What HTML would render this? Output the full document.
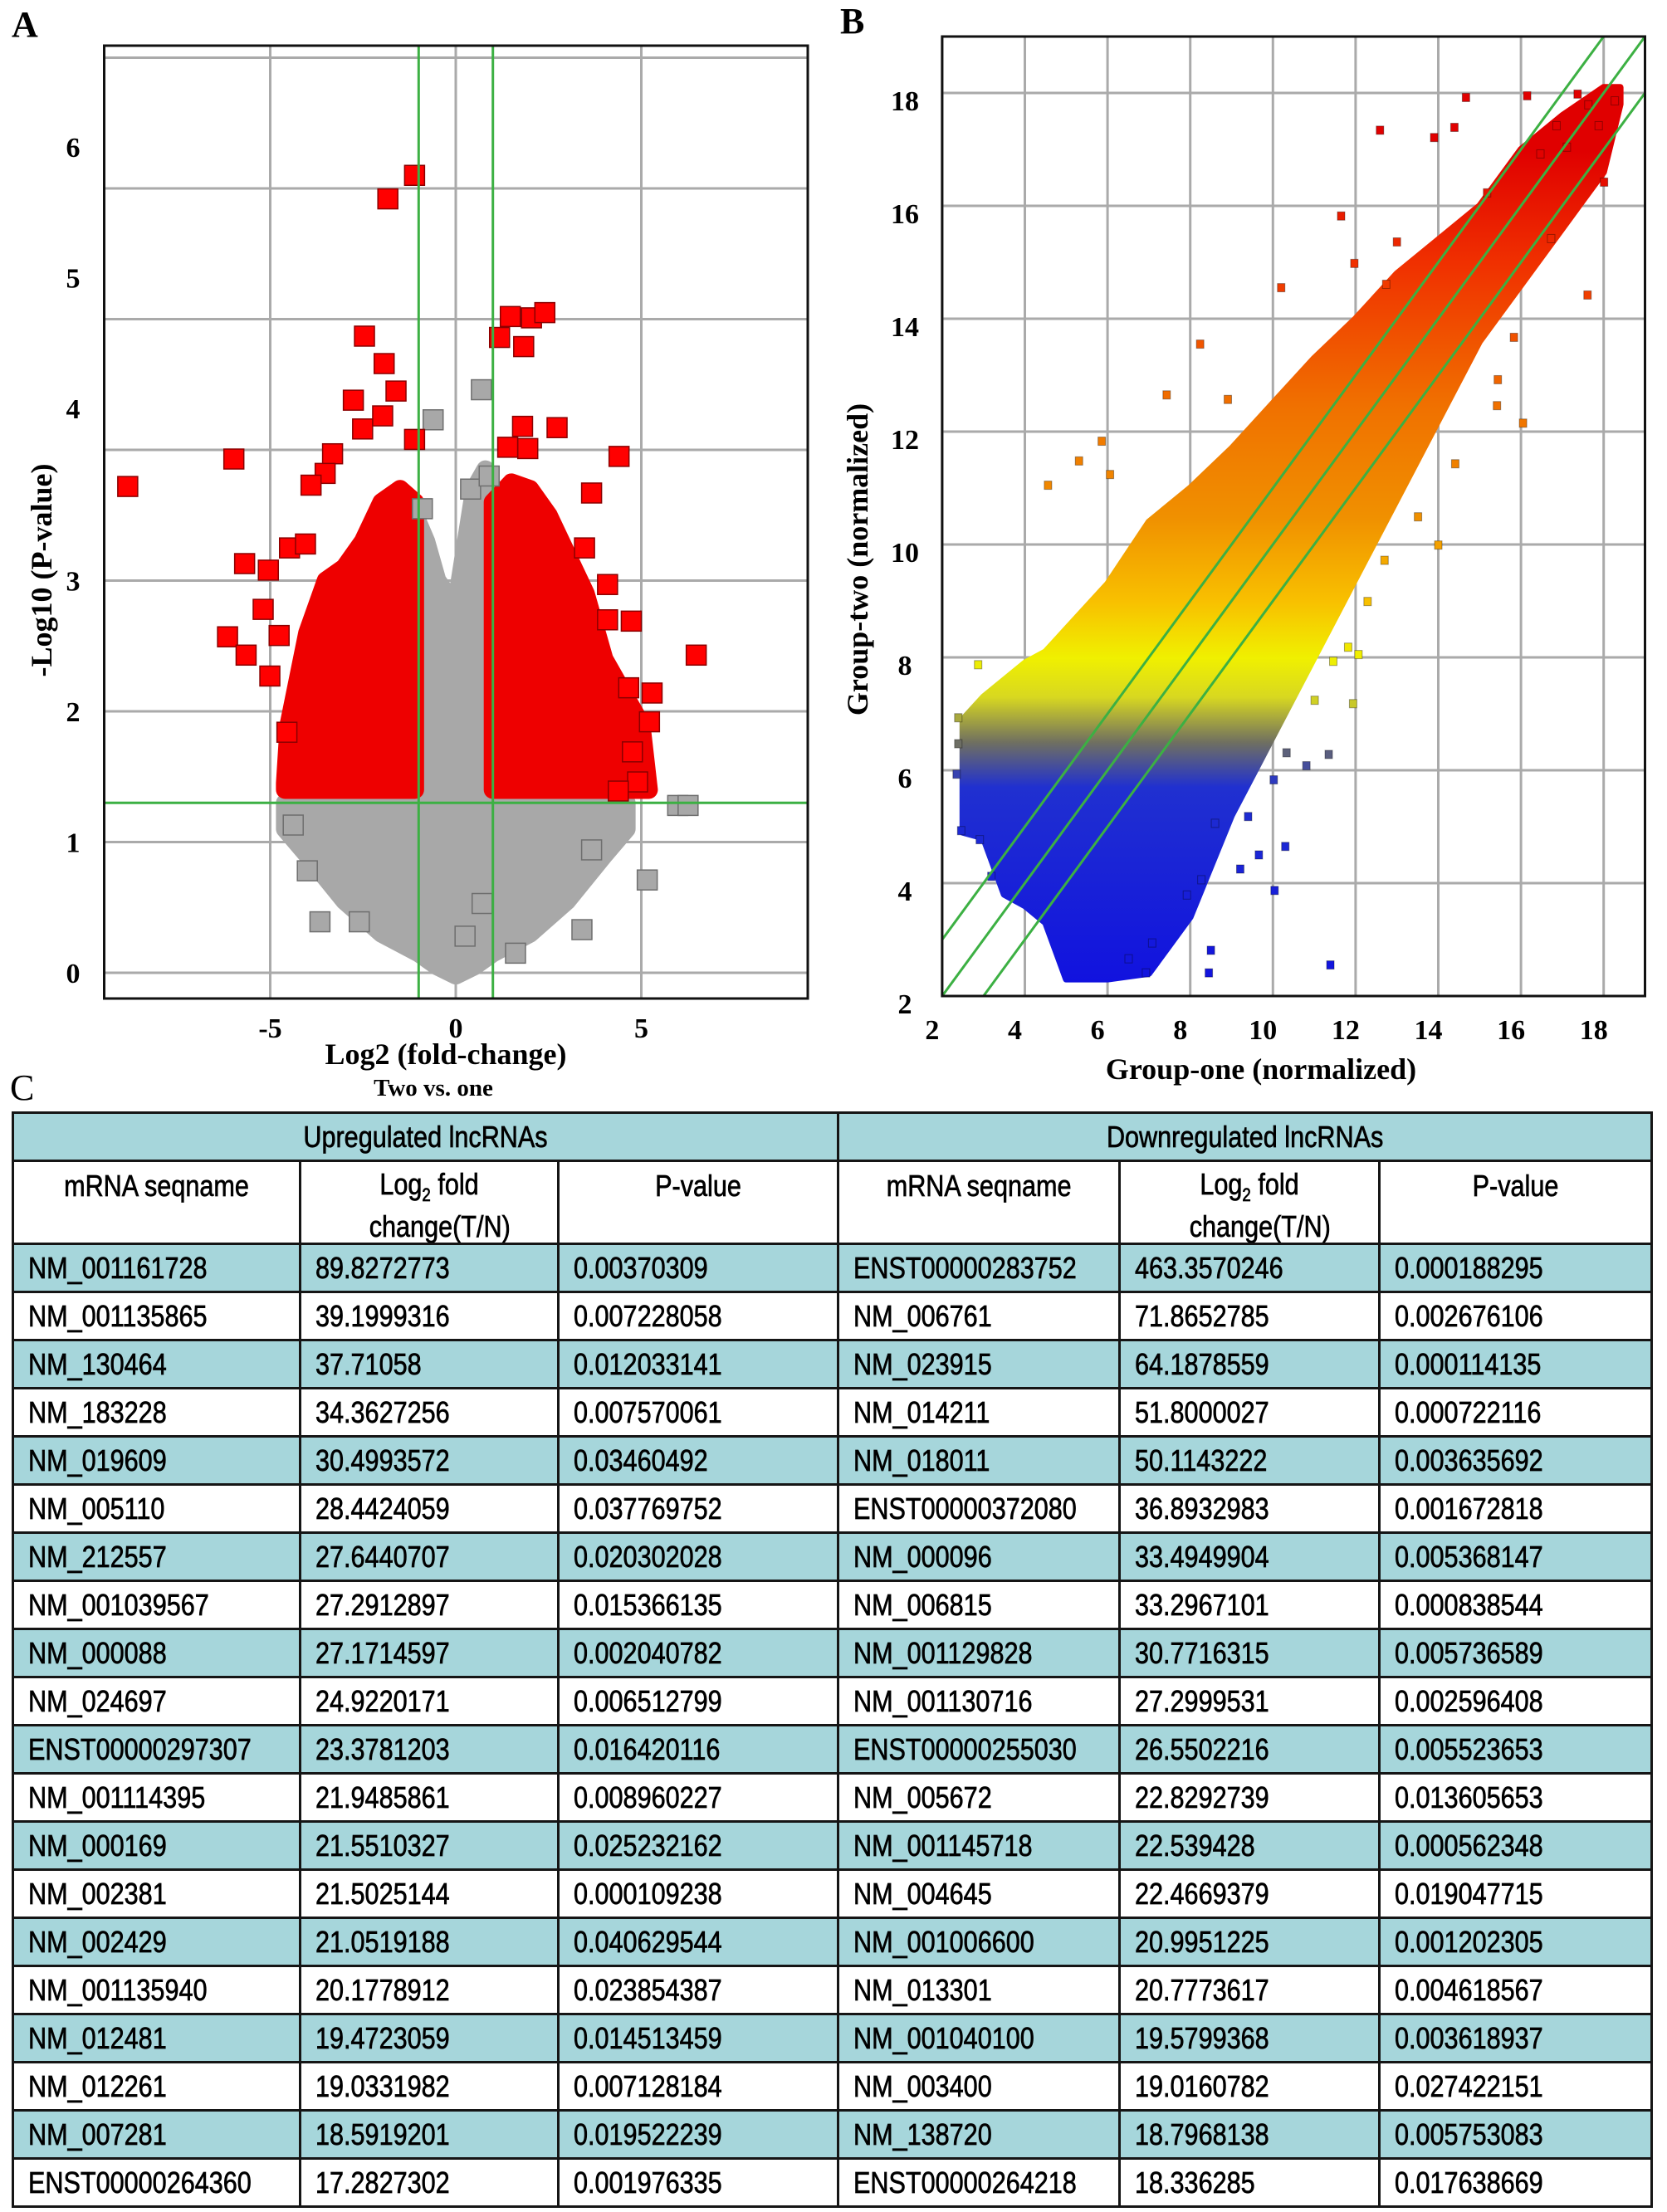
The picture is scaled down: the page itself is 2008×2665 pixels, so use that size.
<!DOCTYPE html>
<html><head><meta charset="utf-8">
<style>
html,body{margin:0;padding:0;background:#fff;}
body{width:2008px;height:2665px;position:relative;overflow:hidden;font-family:"Liberation Serif",serif;}
#charts{position:absolute;left:0;top:0;}
.plabel{position:absolute;font-family:"Liberation Serif",serif;font-weight:bold;font-size:44px;}
table{position:absolute;left:14px;top:1339px;border-collapse:collapse;table-layout:fixed;font-family:"Liberation Sans",sans-serif;}
td{border:3px solid #151515;padding:0;font-size:36px;color:#000;overflow:hidden;white-space:nowrap;-webkit-text-stroke:0.7px #000;}
.teal td,td.teal{background:#a6d6db;}
.cell{display:inline-block;transform:scaleX(0.85);transform-origin:left center;padding-left:20px;}
.hc{display:block;text-align:center;transform:scaleX(0.85);transform-origin:center;}
</style></head>
<body>
<div class="plabel" style="left:14px;top:4px;">A</div>
<div class="plabel" style="left:1012px;top:0px;">B</div>
<div class="plabel" style="left:12px;top:1285px;font-weight:normal;">C</div>
<svg id="charts" width="2008" height="1330" xmlns="http://www.w3.org/2000/svg">
<defs>
<linearGradient id="bandGrad" gradientUnits="userSpaceOnUse" x1="0" y1="1200" x2="0" y2="46">
</linearGradient>
</defs>
<g id="volcano"></g>
<g id="scatter"></g>
</svg>
<table id="tbl">
<colgroup><col style="width:346px"><col style="width:311px"><col style="width:337px"><col style="width:338px"><col style="width:313px"><col style="width:328px"></colgroup>
<tr class="teal" style="height:58px">
<td colspan="3"><span class="hc">Upregulated lncRNAs</span></td>
<td colspan="3"><span class="hc">Downregulated lncRNAs</span></td>
</tr>
<tr style="height:95px;vertical-align:top">
<td><span class="hc" style="margin-top:8px">mRNA seqname</span></td>
<td><span class="hc" style="margin-top:8px;line-height:38px">Log<sub style="font-size:22px">2</sub> fold<br><span style="padding-left:30px">change(T/N)</span></span></td>
<td><span class="hc" style="margin-top:8px">P-value</span></td>
<td><span class="hc" style="margin-top:8px">mRNA seqname</span></td>
<td><span class="hc" style="margin-top:8px;line-height:38px">Log<sub style="font-size:22px">2</sub> fold<br><span style="padding-left:30px">change(T/N)</span></span></td>
<td><span class="hc" style="margin-top:8px">P-value</span></td>
</tr>
</table>
<script>
// ---------- Volcano data ----------
const redX=[-1.11,-1.83,1.18,1.47,2.04,2.40,1.83,-2.46,-1.93,-1.61,-2.76,-1.97,-2.51,-5.98,-8.84,2.73,4.40,1.80,1.40,1.94,3.66,-3.32,-3.52,-3.90,-1.11,-5.69,-5.05,-5.19,-6.15,-5.65,-4.76,-5.01,-4.48,-4.05,6.48,4.09,4.73,4.09,3.47,5.29,5.22,4.76,4.90,4.38,4.66,-4.55];
const redY=[6.10,5.92,4.86,5.02,5.01,5.05,4.79,4.87,4.66,4.45,4.38,4.26,4.16,3.93,3.72,4.17,3.95,4.18,4.02,4.01,3.67,3.97,3.82,3.73,4.08,3.13,3.08,2.78,2.57,2.43,2.58,2.27,3.25,3.28,2.43,2.97,2.69,2.70,3.25,2.14,1.92,1.69,1.46,1.39,2.18,1.84];
const grayX=[0.69,-0.61,5.98,6.26,5.16,3.40,-4.00,-3.66,-2.60,-4.38,1.61,3.66,0.71,0.25,-0.9,0.4,0.9];
const grayY=[4.46,4.23,1.28,1.28,0.71,0.33,0.78,0.39,0.39,1.13,0.15,0.94,0.53,0.28,3.55,3.7,3.8];
const redLeftX=[-4.6,-4.5,-4,-3.5,-3,-2.5,-2,-1.5,-1.1];
const redLeftTop=[1.45,1.9,2.6,3.0,3.1,3.3,3.6,3.7,3.6];
const redRightX=[1.0,1.5,2,2.5,3,3.5,4,4.5,5,5.2];
const redRightTop=[3.6,3.75,3.7,3.5,3.2,2.9,2.4,2.15,1.9,1.4];
const grayMidX=[-1.1,-0.8,-0.5,0,0.5,0.8,1.1];
const grayMidTop=[3.5,3.3,3.0,2.8,3.7,3.85,3.2];
const grayLowX=[-4.6,-4,-3,-2,-1,-0.5,0,0.5,1,2,3,4,4.6];
const grayLowBot=[1.1,0.9,0.55,0.3,0.15,0.05,-0.02,0.05,0.15,0.3,0.55,0.9,1.1];
const vxTicks=[-5,0,5];
const vyTicks=[0,1,2,3,4,5,6];
const vyGrid=[0,1,2,3,4,5,6,7];

// ---------- Scatter data ----------
const bandX=[2.5,3,3.5,4,4.5,5,6,7,8,9,10,11,12,13,14,15,16,17,18,18.4];
const bandLow=[4.9,4.8,3.8,3.6,3.3,2.3,2.3,2.4,3.4,5.2,6.6,8.0,9.4,10.8,12.2,13.6,14.6,15.6,16.6,17.8];
const bandHigh=[6.9,7.3,7.6,7.9,8.1,8.5,9.3,10.4,11.0,11.7,12.5,13.3,14.0,14.8,15.4,16.0,17.0,17.6,18.1,18.1];
const ptX=[12.59,13.90,14.39,16.15,11.65,10.20,11.97,8.24,7.43,5.86,4.56,5.31,6.06,8.91,16.05,15.42,14.0,17.61,12.70,11.82,12.07,11.94,11.46,11.01,2.87,2.39,2.39,2.35,2.46,2.91,3.19,10.33,10.81,11.35,10.02,10.30,9.21,10.04,9.66,11.39,8.50,8.45,8.27,7.92,6.93,6.51,7.08,8.60,9.40,18.27,18.01,15.18,16.73,13.0,12.74,15.83,15.44,14.41,13.51,12.29,14.67,17.37,17.63,17.11,16.86,17.88,16.47];
const ptY=[17.34,17.21,17.39,17.95,15.82,14.55,14.98,13.55,12.65,11.83,11.05,11.48,11.24,12.57,12.15,12.46,9.99,14.42,9.72,8.18,8.05,7.18,7.93,7.24,7.87,6.93,6.47,5.93,4.93,4.77,4.12,6.31,6.08,6.28,5.83,4.65,4.25,3.87,4.50,2.55,2.81,2.41,4.06,3.79,2.41,2.66,2.94,5.06,5.18,17.86,16.42,16.23,15.42,15.36,14.61,13.67,12.92,11.43,10.49,8.99,17.92,17.98,17.79,17.04,17.42,17.42,16.92];
const bTicks=[2,4,6,8,10,12,14,16,18];
const foldLines=[1,0,-1];

const NS="http://www.w3.org/2000/svg";
function mk(tag,attrs,parent){const e=document.createElementNS(NS,tag);for(const k in attrs)e.setAttribute(k,attrs[k]);parent.appendChild(e);return e;}

// ---- Volcano ----
const V=document.getElementById('volcano');
const vx=v=>549+44.7*v, vy=v=>1172-157.5*v;
const VL=125.5,VR=973,VT=55,VB=1203;
vxTicks.forEach(t=>{const l=mk('line',{x1:vx(t),x2:vx(t),y1:VT,y2:VB,stroke:'#aaa','stroke-width':3},V);

});
vyGrid.forEach(t=>{const l=mk('line',{x1:VL,x2:VR,y1:vy(t),y2:vy(t),stroke:'#aaa','stroke-width':3},V);

});
function envelope(xs,top,bot,fill,stroke,name){
  let pts=[];xs.forEach((x,i)=>pts.push(vx(x)+','+vy(top[i])));
  for(let i=xs.length-1;i>=0;i--)pts.push(vx(xs[i])+','+vy(Array.isArray(bot)?bot[i]:bot));
  const p=mk('polygon',{points:pts.join(' '),fill:fill,stroke:stroke,'stroke-width':22,'stroke-linejoin':'round'},V);
  
  
}
envelope(grayLowX,grayLowX.map(()=>1.3),grayLowBot,'#a8a8a8','#a8a8a8','gray-dense-low');
envelope(grayMidX,grayMidTop,1.3,'#a8a8a8','#a8a8a8','gray-dense-mid');
envelope(redLeftX,redLeftTop,1.4,'#ee0000','#ee0000','red-dense-left');
envelope(redRightX,redRightTop,1.4,'#ee0000','#ee0000','red-dense-right');
grayX.forEach((x,i)=>{const r=mk('rect',{x:vx(x)-12,y:vy(grayY[i])-12,width:24,height:24,fill:'#a8a8a8',stroke:'#6e6e6e','stroke-width':1.5},V);

});
redX.forEach((x,i)=>{const r=mk('rect',{x:vx(x)-12,y:vy(redY[i])-12,width:24,height:24,fill:'#ff0000',stroke:'#8a0000','stroke-width':1.5},V);

});
[[vx(-1),VT,vx(-1),VB],[vx(1),VT,vx(1),VB],[VL,vy(1.3),VR,vy(1.3)]].forEach(c=>{const l=mk('line',{x1:c[0],y1:c[1],x2:c[2],y2:c[3],stroke:'#3cb043','stroke-width':3},V);

});
const vf=mk('rect',{x:VL,y:VT,width:VR-VL,height:VB-VT,fill:'none',stroke:'#111','stroke-width':3},V);


vxTicks.forEach(t=>{const e=mk('text',{x:vx(t),y:1250,'text-anchor':'middle','font-size':34,'font-weight':'bold','font-family':'Liberation Serif, serif'},V);e.textContent=t;

});
vyTicks.forEach(t=>{const e=mk('text',{x:88,y:vy(t)+12-(t>=4?50:0),'text-anchor':'middle','font-size':34,'font-weight':'bold','font-family':'Liberation Serif, serif'},V);e.textContent=t;

});
let t1=mk('text',{x:537,y:1282,'text-anchor':'middle','font-size':36,'font-weight':'bold','font-family':'Liberation Serif, serif'},V);t1.textContent='Log2 (fold-change)';


let t2=mk('text',{x:522,y:1320,'text-anchor':'middle','font-size':29,'font-weight':'bold','font-family':'Liberation Serif, serif'},V);t2.textContent='Two vs. one';


let t3=mk('text',{x:0,y:0,'text-anchor':'middle','font-size':36,'font-weight':'bold','font-family':'Liberation Serif, serif',transform:'translate(62,687) rotate(-90)'},V);t3.textContent='-Log10 (P-value)';



// ---- Scatter ----
const S=document.getElementById('scatter');
const bx=v=>1134.9+49.8*(v-2), by=v=>1200-68*(v-2);
const SL=bx(2),SR=bx(19),ST=by(19),SB=by(2);
const stops=[[2,[16,16,224]],[5.7,[32,48,208]],[6.5,[112,112,96]],[7.3,[216,216,32]],[8,[240,240,0]],[9,[248,192,0]],[10.5,[240,144,0]],[12.5,[240,112,0]],[15,[240,48,0]],[17,[224,0,0]],[19,[224,0,0]]];
function colorAt(v){for(let i=0;i<stops.length-1;i++){if(v<=stops[i+1][0]){const f=Math.max(0,(v-stops[i][0])/(stops[i+1][0]-stops[i][0]));const c=stops[i][1].map((a,k)=>Math.round(a+(stops[i+1][1][k]-a)*f));return 'rgb('+c.join(',')+')';}}return 'rgb(224,0,0)';}
const grad=document.getElementById('bandGrad');
stops.forEach(s=>{mk('stop',{offset:((s[0]-2)/17).toFixed(3),'stop-color':colorAt(s[0])},grad);});
bTicks.forEach(t=>{
 const a=mk('line',{x1:bx(t),x2:bx(t),y1:ST,y2:SB,stroke:'#aaa','stroke-width':3},S);
 
 
 const b=mk('line',{x1:SL,x2:SR,y1:by(t),y2:by(t),stroke:'#aaa','stroke-width':3},S);
 
 
});
{let pts=[];bandX.forEach((x,i)=>pts.push(bx(x)+','+by(bandHigh[i])));for(let i=bandX.length-1;i>=0;i--)pts.push(bx(bandX[i])+','+by(bandLow[i]));
 const p=mk('polygon',{points:pts.join(' '),fill:'url(#bandGrad)',stroke:'url(#bandGrad)','stroke-width':8,'stroke-linejoin':'round'},S);
 
 }
ptX.forEach((x,i)=>{const c=colorAt(ptY[i]);const r=mk('rect',{x:bx(x)-4.5,y:by(ptY[i])-5,width:9,height:10,fill:c,stroke:'rgba(0,0,0,0.35)','stroke-width':1},S);

});
foldLines.forEach(o=>{
 const x1=2,x2=19;let y1=x1+o,y2=x2+o;let xa=x1,xb=x2;
 if(y1<2){xa=2-o;y1=2;} if(y2>19){xb=19-o;y2=19;}
 const l=mk('line',{x1:bx(xa),y1:by(y1),x2:bx(xb),y2:by(y2),stroke:'#3cb043','stroke-width':3},S);
 
 
});
const sf=mk('rect',{x:SL,y:ST,width:SR-SL,height:SB-ST,fill:'none',stroke:'#111','stroke-width':3},S);


bTicks.forEach(t=>{
 const e=mk('text',{x:bx(t)-12,y:1252,'text-anchor':'middle','font-size':34,'font-weight':'bold','font-family':'Liberation Serif, serif'},S);e.textContent=t;
 
 
 const f=mk('text',{x:1090,y:by(t)+21,'text-anchor':'middle','font-size':34,'font-weight':'bold','font-family':'Liberation Serif, serif'},S);f.textContent=t;
 
 
});
let s1=mk('text',{x:1519,y:1300,'text-anchor':'middle','font-size':36,'font-weight':'bold','font-family':'Liberation Serif, serif'},S);s1.textContent='Group-one (normalized)';


let s2=mk('text',{x:0,y:0,'text-anchor':'middle','font-size':36,'font-weight':'bold','font-family':'Liberation Serif, serif',transform:'translate(1045,674) rotate(-90)'},S);s2.textContent='Group-two (normalized)';



// ---- Table ----
const upName=['NM_001161728','NM_001135865','NM_130464','NM_183228','NM_019609','NM_005110','NM_212557','NM_001039567','NM_000088','NM_024697','ENST00000297307','NM_001114395','NM_000169','NM_002381','NM_002429','NM_001135940','NM_012481','NM_012261','NM_007281','ENST00000264360'];
const upFC=['89.8272773','39.1999316','37.71058','34.3627256','30.4993572','28.4424059','27.6440707','27.2912897','27.1714597','24.9220171','23.3781203','21.9485861','21.5510327','21.5025144','21.0519188','20.1778912','19.4723059','19.0331982','18.5919201','17.2827302'];
const upP=['0.00370309','0.007228058','0.012033141','0.007570061','0.03460492','0.037769752','0.020302028','0.015366135','0.002040782','0.006512799','0.016420116','0.008960227','0.025232162','0.000109238','0.040629544','0.023854387','0.014513459','0.007128184','0.019522239','0.001976335'];
const dnName=['ENST00000283752','NM_006761','NM_023915','NM_014211','NM_018011','ENST00000372080','NM_000096','NM_006815','NM_001129828','NM_001130716','ENST00000255030','NM_005672','NM_001145718','NM_004645','NM_001006600','NM_013301','NM_001040100','NM_003400','NM_138720','ENST00000264218'];
const dnFC=['463.3570246','71.8652785','64.1878559','51.8000027','50.1143222','36.8932983','33.4949904','33.2967101','30.7716315','27.2999531','26.5502216','22.8292739','22.539428','22.4669379','20.9951225','20.7773617','19.5799368','19.0160782','18.7968138','18.336285'];
const dnP=['0.000188295','0.002676106','0.000114135','0.000722116','0.003635692','0.001672818','0.005368147','0.000838544','0.005736589','0.002596408','0.005523653','0.013605653','0.000562348','0.019047715','0.001202305','0.004618567','0.003618937','0.027422151','0.005753083','0.017638669'];
const tbl=document.getElementById('tbl');
upName.forEach((n,i)=>{
 const tr=document.createElement('tr');tr.style.height='58px';if(i%2===0)tr.className='teal';
 
 
 [n,upFC[i],upP[i],dnName[i],dnFC[i],dnP[i]].forEach(v=>{const td=document.createElement('td');const s=document.createElement('span');s.className='cell';s.textContent=v;td.appendChild(s);
  
  
  tr.appendChild(td);});
 tbl.appendChild(tr);
});
</script>
</body></html>
